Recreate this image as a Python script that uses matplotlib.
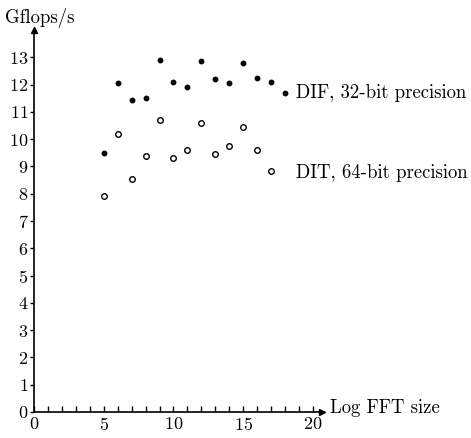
import matplotlib.pyplot as plt

plt.rcParams['font.family'] = ['cmr10', 'DejaVu Serif']
plt.rcParams['axes.formatter.use_mathtext'] = True

log_size = [5, 6, 7, 8, 9, 10, 11, 12, 13, 14, 15, 16, 17, 18]
dif_32 = [9.5, 12.05, 11.45, 11.5, 12.9, 12.1, 11.9, 12.85, 12.2, 12.05, 12.8, 12.25, 12.1, 11.7]
dit_64 = [7.9, 10.2, 8.55, 9.4, 10.7, 9.3, 9.6, 10.6, 9.45, 9.75, 10.45, 9.6, 8.85]

fig = plt.figure(figsize=(4.71, 4.38), dpi=100)
ax = fig.add_axes([34 / 471, 26 / 438, 288 / 471, 382 / 438])

ax.plot(log_size, dif_32, linestyle='none', marker='o', markersize=3.2,
        color='black', clip_on=False)
ax.plot(log_size[:len(dit_64)], dit_64, linestyle='none', marker='o',
        markersize=4.0, markerfacecolor='white', markeredgecolor='black',
        markeredgewidth=1.0, clip_on=False)

ax.set_xlim(0, 20.65)
ax.set_ylim(0, 14.0)
ax.set_xticks(range(0, 21, 5))
ax.set_xticks(range(0, 21), minor=True)
ax.set_yticks(range(0, 14))

for s in ['top', 'right']:
    ax.spines[s].set_visible(False)
for s in ['left', 'bottom']:
    ax.spines[s].set_linewidth(1.2)

ax.tick_params(axis='x', direction='in', length=4, width=1, labelsize=13, pad=3)
ax.tick_params(axis='x', which='minor', direction='in', length=4, width=1)
ax.tick_params(axis='y', direction='out', length=3, width=1, labelsize=13, pad=1)

# arrow heads on axes
ax.plot(1, 0, '>k', markersize=4, transform=ax.transAxes, clip_on=False)
ax.plot(0, 1, '^k', markersize=4, transform=ax.transAxes, clip_on=False)

ax.text(18.8, 11.7, 'DIF, 32-bit precision', fontsize=13.5, va='center', ha='left')
ax.text(18.8, 8.75, 'DIT, 64-bit precision', fontsize=13.5, va='center', ha='left')

fig.text(5 / 471, 1 - 18 / 438, 'Gflops/s', fontsize=13.5, va='center', ha='left')
fig.text(330 / 471, 1 - 408 / 438, 'Log FFT size', fontsize=13.5, va='center', ha='left')

fig.savefig('out.png', dpi=100)
